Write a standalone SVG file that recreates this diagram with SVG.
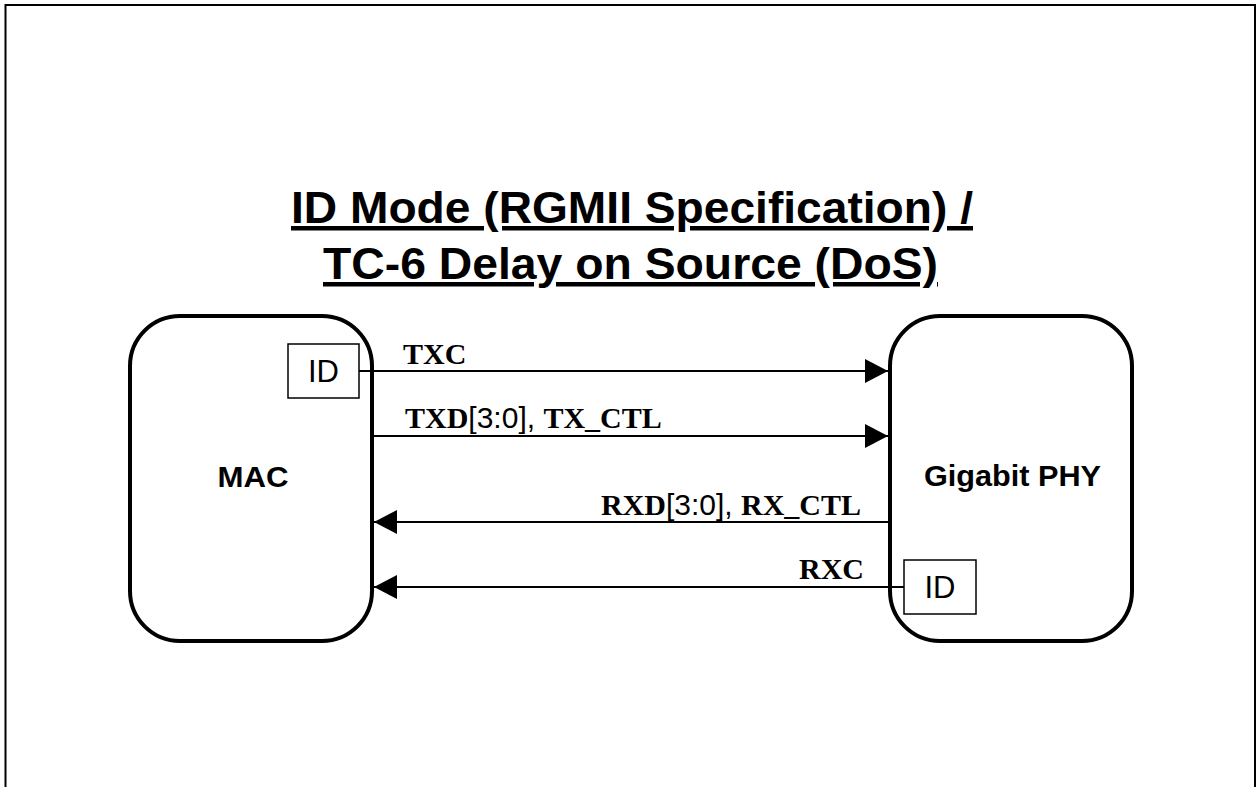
<svg xmlns="http://www.w3.org/2000/svg" width="1256" height="787" viewBox="0 0 1256 787">
  <style>
    .frame { fill: none; stroke: #000; stroke-width: 2; }
    .block { fill: #fff; stroke: #000; stroke-width: 4; }
    .idbox { fill: #fff; stroke: #000; stroke-width: 1.5; }
    .title { font-family: "Liberation Sans", Arial, sans-serif; font-weight: bold; font-size: 45px; fill: #000; text-anchor: middle; text-decoration: underline; }
    .name { font-family: "Liberation Sans", Arial, sans-serif; font-weight: bold; font-size: 29px; fill: #000; text-anchor: middle; }
    .id { font-family: "Liberation Sans", Arial, sans-serif; font-size: 31px; fill: #000; text-anchor: middle; }
    .sig { font-family: "Liberation Serif", "Times New Roman", serif; font-weight: bold; font-size: 30px; fill: #000; }
    .sans { font-family: "Liberation Sans", Arial, sans-serif; font-weight: normal; }
    .wire { stroke: #000; stroke-width: 2; fill: none; marker-end: url(#arrow); }
  </style>
  <defs>
    <marker id="arrow" markerUnits="userSpaceOnUse" markerWidth="23" markerHeight="24" refX="23" refY="12" orient="auto">
      <path d="M0,0 L23,12 L0,24 Z" fill="#000"/>
    </marker>
  </defs>
  <rect width="1256" height="787" fill="#fff"/>
  <rect class="frame" x="5.5" y="5" width="1249.5" height="800"/>

  <g id="title">
    <text class="title" x="632" y="223" textLength="682" lengthAdjust="spacingAndGlyphs">ID Mode (RGMII Specification) /</text>
    <text class="title" x="630.5" y="279" textLength="615" lengthAdjust="spacingAndGlyphs">TC-6 Delay on Source (DoS)</text>
  </g>

  <g id="mac">
    <rect class="block" x="130" y="316" width="242" height="325" rx="50" ry="50"/>
    <text class="name" x="253" y="487" textLength="71" lengthAdjust="spacingAndGlyphs">MAC</text>
  </g>

  <g id="mac-id">
    <rect class="idbox" x="288" y="344" width="71" height="54"/>
    <text class="id" x="323.5" y="382">ID</text>
  </g>

  <g id="phy">
    <rect class="block" x="890" y="316" width="242" height="325" rx="50" ry="50"/>
    <text class="name" x="1012.5" y="486" textLength="177" lengthAdjust="spacingAndGlyphs">Gigabit PHY</text>
  </g>

  <g id="phy-id">
    <rect class="idbox" x="904" y="560" width="72" height="54"/>
    <text class="id" x="940" y="598">ID</text>
  </g>

  <g id="connectors">
    <line class="wire" x1="359" y1="371" x2="888" y2="371"/>
    <line class="wire" x1="372" y1="436" x2="888" y2="436"/>
    <line class="wire" x1="890" y1="522" x2="374" y2="522"/>
    <line class="wire" x1="904" y1="587" x2="374" y2="587"/>
  </g>

  <g id="labels">
    <text class="sig" x="403" y="364">TXC</text>
    <text class="sig" x="405" y="428">TXD<tspan class="sans">[3:0], </tspan>TX_CTL</text>
    <text class="sig" x="861" y="515" text-anchor="end">RXD<tspan class="sans">[3:0], </tspan>RX_CTL</text>
    <text class="sig" x="864" y="579" text-anchor="end">RXC</text>
  </g>
</svg>
